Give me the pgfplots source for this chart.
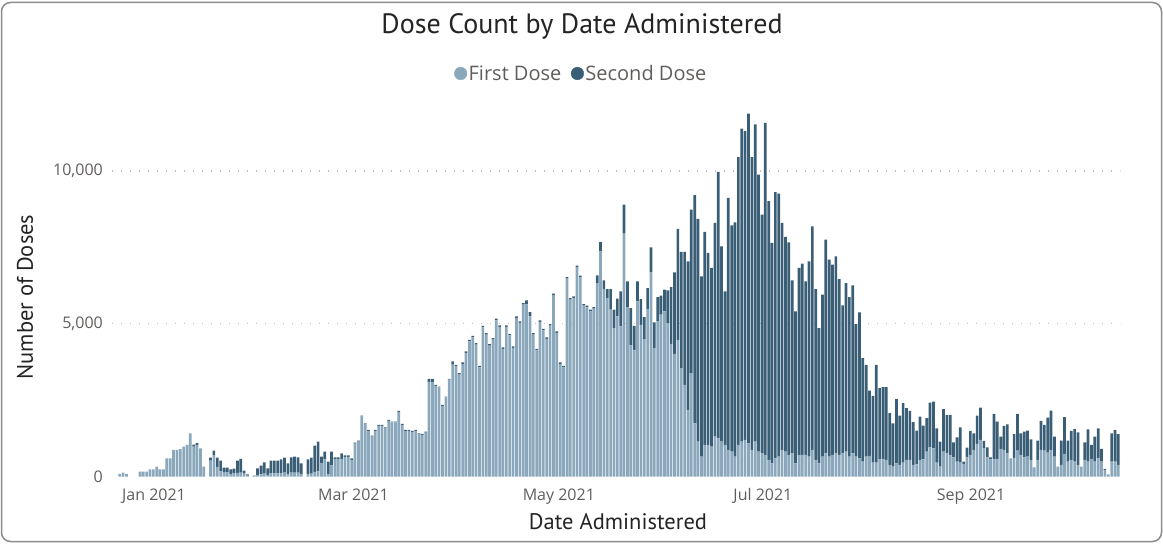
\documentclass[border=0pt]{standalone}
\usepackage{pgfplots}
\pgfplotsset{compat=1.18}
\usepackage{pgfplotstable}
\usepackage{fontspec}
\setmainfont{Open Sans}
\newfontfamily\dinfont{PT Sans}
\definecolor{firstc}{RGB}{139,167,187}
\definecolor{secondc}{RGB}{58,94,118}
\definecolor{titlec}{RGB}{37,36,35}
\definecolor{tickc}{RGB}{96,94,92}
\definecolor{gridc}{RGB}{190,190,190}
\definecolor{framec}{RGB}{140,140,140}

\pgfplotstableread{
d f s
-9 82 0
-8 126 0
-7 82 0
-3 158 0
-2 158 0
-1 158 0
0 235 0
1 235 0
2 322 0
3 235 0
4 235 0
5 595 0
6 595 0
7 869 0
8 869 0
9 900 0
10 978 0
11 1033 0
12 1415 0
13 980 60
14 1030 60
15 923 0
16 322 0
18 517 100
19 697 150
20 317 300
21 169 350
22 140 150
23 140 150
24 85 150
25 107 150
26 119 400
27 123 450
28 91 100
29 31 40
31 10 17
32 54 214
33 71 284
34 93 371
35 54 214
36 104 415
37 104 415
38 104 415
39 113 450
40 123 494
41 86 346
42 126 502
43 130 520
44 126 502
45 86 346
47 84 479
48 93 524
49 152 859
50 171 971
51 450 200
52 564 250
53 86 400
54 364 450
55 578 50
56 578 50
57 560 200
58 640 50
59 640 50
60 545 50
61 1079 30
62 1145 30
63 1964 30
64 1713 30
65 1495 30
66 1309 30
67 1495 30
68 1659 30
69 1659 30
70 1582 30
71 1822 30
72 1768 30
73 1768 30
74 2118 30
75 1691 30
76 1495 30
77 1495 30
78 1462 30
79 1495 30
80 1385 30
81 1363 30
82 1440 30
83 3097 100
84 3097 100
85 2970 30
86 2915 30
87 2314 30
88 2587 30
89 3167 30
90 3665 100
91 3606 50
92 3333 50
93 3682 50
94 4043 50
95 4425 50
96 4557 50
97 4316 50
98 3573 50
99 4884 50
100 4644 50
101 4283 50
102 4480 50
103 5114 50
104 4895 50
105 4174 50
106 4895 50
107 4622 50
108 4207 50
109 5190 50
110 5027 50
111 5628 50
112 5634 131
113 5241 142
114 4644 50
115 4130 50
116 5059 50
117 4786 50
118 4502 50
119 4939 50
120 5934 50
121 4699 50
122 3682 50
123 3573 50
124 6480 50
125 5792 50
126 5846 50
127 6852 50
128 6524 50
129 5595 50
130 5540 50
131 5409 50
132 5496 50
133 6333 252
134 7372 306
135 6137 284
136 5842 295
137 5459 678
138 4858 601
139 5240 580
140 4912 1148
141 7951 951
142 5546 842
143 4290 1224
144 4126 808
145 5732 656
146 4967 842
147 4497 722
148 5481 689
149 6683 820
150 4202 842
151 5077 797
152 5295 623
153 5404 711
154 5022 1071
155 4344 1858
156 4016 2667
157 4475 3629
158 3546 3804
159 3000 4350
160 2180 4864
161 3383 5355
162 1743 7465
163 1142 7290
164 650 5902
165 1033 6972
166 1033 6284
167 978 5847
168 1306 6994
169 1251 8722
170 1142 6394
171 1033 5027
172 869 8251
173 814 7410
174 650 7672
175 1033 9420
176 1142 10241
177 1197 10109
178 1087 10787
179 869 9584
180 1142 10383
181 814 9071
182 760 7814
183 705 10874
184 541 8470
185 432 7213
186 596 8710
187 650 8612
188 869 7431
189 814 7028
190 705 6962
191 760 5661
192 432 4972
193 705 6120
194 705 6262
195 705 5683
196 650 6394
197 869 7322
198 541 5596
199 432 4426
200 650 5301
201 760 6994
202 650 6448
203 705 6229
204 760 6448
205 705 5759
206 760 4841
207 814 5519
208 650 5224
209 760 5497
210 650 4339
211 596 4776
212 486 3388
213 650 3006
214 672 2142
215 451 2188
216 451 3205
217 563 2328
218 563 2360
219 541 2382
220 377 1694
221 322 1421
222 432 2098
223 377 1618
224 454 1945
225 541 1694
226 541 1607
227 377 1399
228 399 1104
229 541 1421
230 563 1104
231 814 1093
232 956 1465
233 923 1531
234 454 1125
235 322 820
236 814 1388
237 760 1256
238 705 1311
239 628 492
240 486 798
241 454 1158
242 410 76
243 628 317
244 705 787
245 869 546
246 1066 929
247 1197 1060
248 923 241
249 628 328
250 563 65
251 563 1486
252 563 1235
253 902 404
254 869 787
255 760 950
256 596 0
257 607 776
258 847 1202
259 705 710
260 628 842
261 650 853
262 541 678
263 300 0
264 541 634
265 869 951
266 847 842
267 781 1148
268 869 1289
269 650 656
270 322 0
271 377 798
272 738 1202
273 486 689
274 541 951
275 486 1071
276 377 1071
277 322 0
278 541 579
279 486 1060
280 563 470
281 486 820
282 596 983
283 486 416
284 213 37
285 71 0
286 486 929
287 486 1039
288 377 1006
}\doses

\begin{document}
\begin{tikzpicture}
\useasboundingbox (0,0) rectangle (1163pt,544pt);
\draw[framec, line width=1.5pt, rounded corners=9pt] (1.5pt,2.5pt) rectangle (1161.5pt,541.5pt);
\begin{axis}[
  at={(112pt,67.5pt)}, anchor=south west,
  scale only axis, width=1008pt, height=366.6pt,
  xmin=-11.3, xmax=288.5, ymin=0, ymax=12000,
  ybar stacked, bar width=0.8,
  scaled y ticks=false, scaled x ticks=false,
  axis line style={draw=none}, major tick length=0pt,
  xtick={1.2,60.5,121.6,182.3,244.2},
  xticklabels={Jan 2021,Mar 2021,May 2021,Jul 2021,Sep 2021},
  ytick={5000,10000}, yticklabels={{5,000},{10,000}},
  extra y ticks={0}, extra y tick labels={0}, extra tick style={grid=none},
  ymajorgrids, grid style={gridc, line width=1.3pt, dash pattern=on 1.3pt off 7.7pt},
  ticklabel style={font=\fontsize{16}{18}\selectfont, text=tickc, inner sep=0pt},
  yticklabel style={anchor=east, xshift=-9pt},
  xticklabel style={anchor=base, yshift=-23.5pt},
  every axis title/.style={at={(axis description cs:0.4663,1.2289)}, anchor=center, font=\dinfont\fontsize{28}{32}\selectfont, text=titlec},
  title={Dose Count by Date Administered},
  every axis x label/.style={at={(axis description cs:0.502,-0.1241)}, anchor=center, font=\dinfont\fontsize{22.5}{26}\selectfont, text=titlec},
  every axis y label/.style={at={(axis description cs:-0.0863,0.4896)}, rotate=90, anchor=center, font=\dinfont\fontsize{22.5}{26}\selectfont, text=titlec},
  xlabel={Date Administered},
  ylabel={Number of Doses},
  legend style={at={(0.4653,1.0993)}, anchor=center, draw=none, fill=none, legend columns=2, font=\fontsize{20}{24}\selectfont, text=tickc, /tikz/every even column/.append style={column sep=8pt}, inner sep=0pt, nodes={inner sep=1.5pt}},
]
\addplot[fill=firstc, draw=none, forget plot] table[x=d,y=f]{\doses};
\addplot[fill=secondc, draw=none, forget plot] table[x=d,y=s]{\doses};
\addlegendimage{legend image code/.code={\fill[firstc] (0pt,0pt) circle (6.3pt);}}
\addlegendentry{First Dose}
\addlegendimage{legend image code/.code={\fill[secondc] (0pt,0pt) circle (6.3pt);}}
\addlegendentry{Second Dose}
\end{axis}
\end{tikzpicture}
\end{document}
